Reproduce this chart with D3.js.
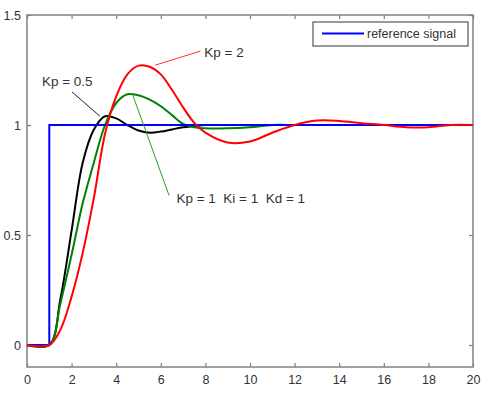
<!DOCTYPE html>
<html>
<head>
<meta charset="utf-8">
<script src="https://cdn.jsdelivr.net/npm/d3@7"></script>
<style>
  body { margin: 0; background: #fff; }
  svg { font-family: "Liberation Sans", Arial, sans-serif; }
</style>
</head>
<body>
<div id="chart"></div>
<script>
'use strict';

// time grid shared by the controller responses
var times = [0, 1, 1.5, 2, 2.5, 3, 3.5, 4, 4.5, 5, 5.5, 6, 6.5, 7, 7.5, 8, 9, 10, 11, 12, 13, 14, 15, 16, 17, 18, 19, 20];

var kp05 = [0, 0, 0.21, 0.52, 0.83, 0.98, 1.04, 1.03, 1.0, 0.975, 0.965, 0.97, 0.98, 0.99, 0.995, 1.0, 1.0, 1.0, 1.0, 1.0, 1.0, 1.0, 1.0, 1.0, 1.0, 1.0, 1.0, 1.0];
var pid111 = [0, 0, 0.19, 0.41, 0.645, 0.83, 1.0, 1.1, 1.14, 1.135, 1.115, 1.085, 1.045, 1.005, 0.99, 0.985, 0.985, 0.99, 1.0, 1.0, 1.0, 1.0, 1.0, 1.0, 1.0, 1.0, 1.0, 1.0];
var kp2 = [0, 0, 0.07, 0.22, 0.42, 0.67, 0.96, 1.13, 1.23, 1.27, 1.265, 1.23, 1.16, 1.08, 1.01, 0.965, 0.92, 0.925, 0.965, 1.0, 1.02, 1.018, 1.008, 1.0, 0.99, 0.99, 1.0, 1.0];

// reference step
var refTimes = [0, 1, 1, 20];
var refValues = [0, 0, 1, 1];

var xTicks = [0, 2, 4, 6, 8, 10, 12, 14, 16, 18, 20];
var yTicks = [0, 0.5, 1, 1.5];

// annotations: label position, then pointer from -> to (data units)
var notes = [
    { text: "Kp = 2", color: "#ff3030", at: [7.95, 1.33], from: [5.75, 1.272], to: [7.78, 1.336] },
    { text: "Kp = 0.5", color: "#222", at: [0.67, 1.2], from: [3.27, 1.04], to: [2.02, 1.15] },
    { text: "Kp = 1  Ki = 1  Kd = 1", color: "#22a022", at: [6.7, 0.668], from: [4.71, 1.145], to: [6.37, 0.68] }
];

var svgWidth = 484, svgHeight = 400;
var margin = { top: 15, right: 11, bottom: 33, left: 27 };
var width = svgWidth - margin.left - margin.right;
var height = svgHeight - margin.top - margin.bottom;

var svg = d3.select("#chart").append("svg")
    .attr("width", svgWidth)
    .attr("height", svgHeight);

var g = svg.append("g")
    .attr("transform", "translate(" + margin.left + "," + margin.top + ")");

var x = d3.scaleLinear().domain([0, 20]).range([0, width]);
var y = d3.scaleLinear().domain([-0.1, 1.5]).range([height, 0]);

var axisColor = "#808080";

function styleAxis(sel, labels) {
    sel.select(".domain").remove();
    sel.selectAll(".tick line").attr("stroke", axisColor).attr("stroke-width", 1.2);
    sel.selectAll(".tick text").attr("fill", "#333").style("font-size", "12.5px");
    if (!labels) sel.selectAll(".tick text").remove();
}

g.append("g").attr("transform", "translate(0," + height + ")")
    .call(d3.axisBottom(x).tickValues(xTicks).tickSize(-4).tickPadding(8))
    .call(styleAxis, true);
g.append("g")
    .call(d3.axisTop(x).tickValues(xTicks).tickSize(-4))
    .call(styleAxis, false);
g.append("g")
    .call(d3.axisLeft(y).tickValues(yTicks).tickSize(-4).tickPadding(6).tickFormat(d3.format("")))
    .call(styleAxis, true);
g.append("g").attr("transform", "translate(" + width + ",0)")
    .call(d3.axisRight(y).tickValues(yTicks).tickSize(-4))
    .call(styleAxis, false);

g.append("rect")
    .attr("width", width).attr("height", height)
    .attr("fill", "none")
    .attr("stroke", axisColor)
    .attr("stroke-width", 1.5);

var smooth = d3.line()
    .x(function (d) { return x(d[0]); })
    .y(function (d) { return y(d[1]); })
    .curve(d3.curveCatmullRom.alpha(0.5));

var straight = d3.line()
    .x(function (d) { return x(d[0]); })
    .y(function (d) { return y(d[1]); });

function pairs(ts, vs) {
    return ts.map(function (t, i) { return [t, vs[i]]; });
}

g.append("path").attr("d", smooth(pairs(times, kp05)))
    .attr("fill", "none").attr("stroke", "#000").attr("stroke-width", 2);
g.append("path").attr("d", smooth(pairs(times, pid111)))
    .attr("fill", "none").attr("stroke", "#008000").attr("stroke-width", 2);
g.append("path").attr("d", straight(pairs(refTimes, refValues)))
    .attr("fill", "none").attr("stroke", "#0000ff").attr("stroke-width", 2);
g.append("path").attr("d", smooth(pairs(times, kp2)))
    .attr("fill", "none").attr("stroke", "#ff0000").attr("stroke-width", 2);

// annotations
notes.forEach(function (n) {
    g.append("line")
        .attr("x1", x(n.from[0])).attr("y1", y(n.from[1]))
        .attr("x2", x(n.to[0])).attr("y2", y(n.to[1]))
        .attr("stroke", n.color).attr("stroke-width", 1);
    g.append("text")
        .attr("x", x(n.at[0])).attr("y", y(n.at[1]))
        .attr("dy", "0.35em")
        .style("font-size", "13.5px")
        .style("white-space", "pre")
        .attr("fill", "#333")
        .text(n.text);
});

// legend
var legend = svg.append("g").attr("transform", "translate(313,22)");
legend.append("rect")
    .attr("width", 155).attr("height", 24)
    .attr("fill", "#fff")
    .attr("stroke", "#555").attr("stroke-width", 1.2);
legend.append("line")
    .attr("x1", 9).attr("x2", 51).attr("y1", 11.5).attr("y2", 11.5)
    .attr("stroke", "#0000ff").attr("stroke-width", 2);
legend.append("text")
    .attr("x", 54).attr("y", 12).attr("dy", "0.35em")
    .style("font-size", "12.5px")
    .attr("fill", "#333")
    .text("reference signal");
</script>
</body>
</html>
